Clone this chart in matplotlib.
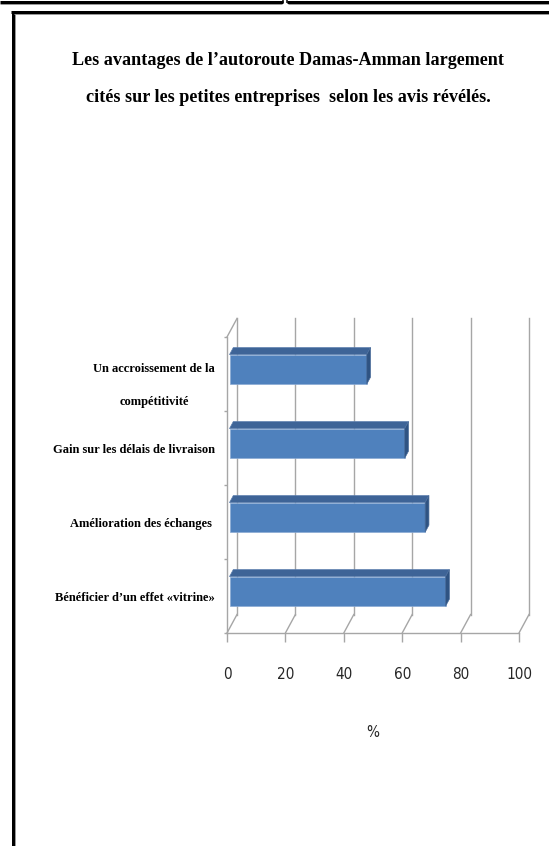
import matplotlib
matplotlib.use("Agg")
import matplotlib.pyplot as plt
import matplotlib.font_manager as fm
from matplotlib.patches import Polygon
from matplotlib.lines import Line2D

# data
categories = ["Un accroissement de la\ncompétitivité",
              "Gain sur les délais de livraison",
              "Amélioration des échanges ",
              "Bénéficier d\u2019un effet «vitrine»"]
values = [47, 60, 67, 74]
xticks = [0, 20, 40, 60, 80, 100]
xtick_labels = ["0", "20", "40", "60", "80", "100"]
title_lines = ["Les avantages de l\u2019autoroute Damas-Amman largement",
               "cités sur les petites entreprises  selon les avis révélés."]

W, H = 549, 846
fonts = fm.fontManager.ttflist
names = {f.name for f in fonts}
# narrow sans for the numbers if we have one
if 'Liberation Sans Narrow' in names:
    num_font = dict(fontfamily='Liberation Sans Narrow')
elif any(f.name == 'DejaVu Sans' and f.stretch == 'condensed' for f in fonts):
    num_font = dict(fontfamily='DejaVu Sans', fontstretch='condensed')
else:
    num_font = dict(fontfamily='Liberation Sans')
serif = 'Liberation Serif'
grid_c = '#A6A6A6'

fig = plt.figure(figsize=(W / 100, H / 100), dpi=100)
fig.patch.set_facecolor('white')

# front plane of the excel-like 3d box
ax = fig.add_axes([227 / W, (H - 633) / H, 292 / W, 296 / H])
n = len(categories)
ax.set_xlim(0, 100)
ax.set_ylim(0, n)
ax.patch.set_alpha(0)

# depth offset of the back wall (data units)
DX = 10 / 292 * 100
DY = 18.5 / 74
f0 = 0.25    # depth where bar fronts sit
fb = 0.38    # depth of a bar
bh = 0.4     # bar height

## WALLS AND FLOOR
for v in xticks:
    ax.plot([v + DX, v + DX], [DY, n + DY], color=grid_c, lw=1, clip_on=False, zorder=1)
    ax.plot([v, v + DX], [0, DY], color=grid_c, lw=1, clip_on=False, zorder=1)
ax.plot([0, DX], [n, n + DY], color=grid_c, lw=1, clip_on=False, zorder=1)

for s in ['top', 'right']:
    ax.spines[s].set_visible(False)
for s in ['left', 'bottom']:
    ax.spines[s].set_color(grid_c)
    ax.spines[s].set_linewidth(1)

## BARS
ypos = [n - 0.5 - i for i in range(n)]
yfront = [y + f0 * DY for y in ypos]
x0 = f0 * DX
ax.barh(yfront, values, left=x0, height=bh, color='#4F81BD',
        edgecolor='#8AAAD4', linewidth=0.5, zorder=3)
for y, v in zip(yfront, values):
    top = y + bh / 2
    bot = y - bh / 2
    ax.add_patch(Polygon([(x0, top), (x0 + v, top),
                          (x0 + v + fb * DX, top + fb * DY), (x0 + fb * DX, top + fb * DY)],
                         closed=True, facecolor='#3E6497', edgecolor='#5C7FAE',
                         lw=0.5, zorder=3, clip_on=False))
    ax.add_patch(Polygon([(x0 + v, bot), (x0 + v, top),
                          (x0 + v + fb * DX, top + fb * DY), (x0 + v + fb * DX, bot + fb * DY)],
                         closed=True, facecolor='#2F5382', edgecolor='#4A6C9A',
                         lw=0.5, zorder=3, clip_on=False))

## TICKS AND LABELS
ax.set_xticks(xticks)
ax.set_xticklabels(xtick_labels, fontsize=11, color='#262626', **num_font)
ax.tick_params(axis='x', length=6.5, width=1, color=grid_c, pad=18)
ax.set_yticks(range(n + 1))
ax.set_yticklabels([])
ax.tick_params(axis='y', which='major', length=2.5, width=1, color=grid_c)
ax.set_yticks(ypos, labels=categories, minor=True, fontfamily=serif,
              fontweight='bold', fontsize=9, multialignment='center', linespacing=3.3)
ax.tick_params(axis='y', which='minor', length=0, pad=8.6)

ax.set_xlabel('%', fontsize=11, color='#262626', **num_font)
ax.xaxis.set_label_coords(0.5, (633 - 732) / 296)
ax.xaxis.label.set_va('center')

## TITLE
fig.text(288 / W, (H - 65) / H, title_lines[0], ha='center', va='baseline',
         fontsize=13.1, fontweight='bold', family=serif)
fig.text(288 / W, (H - 102) / H, title_lines[1], ha='center', va='baseline',
         fontsize=13.1, fontweight='bold', family=serif)

## PAGE FRAME
def frame(xs, ys, c, w):
    fig.add_artist(Line2D([x / W for x in xs], [(H - y) / H for y in ys],
                          transform=fig.transFigure, color=c, lw=w * 0.72,
                          solid_capstyle='butt'))

frame([0, 283], [2, 2], 'black', 3)
frame([287, W], [2, 2], 'black', 3)
frame([0, 282], [4.5, 4.5], '#999999', 1)
frame([288, W], [4.5, 4.5], '#999999', 1)
frame([283, 283], [0, 3.5], 'black', 1.5)
frame([287, 287], [0, 3.5], 'black', 1.5)
frame([12.5, 12.5], [11, H], 'black', 3)
frame([11, W], [12.5, 12.5], 'black', 3)
frame([14.5, 14.5], [14, H], '#999999', 1)
frame([14, W], [14.5, 14.5], '#999999', 1)

plt.savefig('out.png', dpi=100)
